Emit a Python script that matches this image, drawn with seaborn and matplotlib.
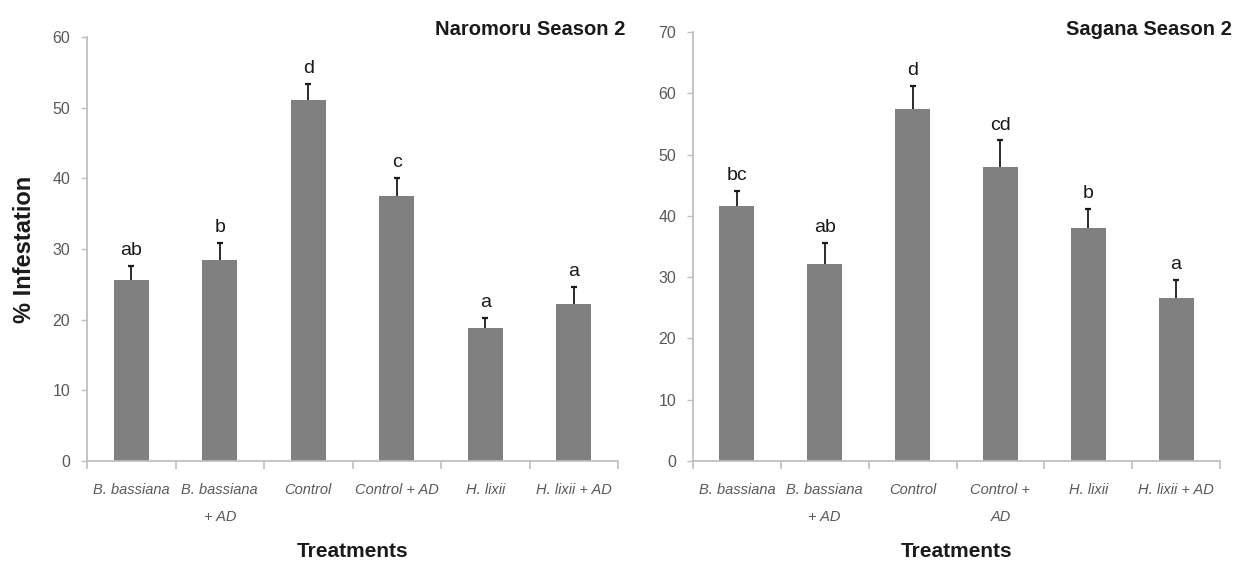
import matplotlib
matplotlib.use("Agg")
import matplotlib.pyplot as plt
import numpy as np
import pandas as pd
import seaborn as sns

# Treatments and mean % infestation with standard errors
treatments = ["B. bassiana", "B. bassiana\n+ AD", "Control", "Control + AD", "H. lixii", "H. lixii + AD"]
treatments_sagana = ["B. bassiana", "B. bassiana\n+ AD", "Control", "Control +\nAD", "H. lixii", "H. lixii + AD"]

naromoru_mean = [25.6, 28.4, 51.1, 37.5, 18.8, 22.2]
naromoru_se = [2.0, 2.4, 2.2, 2.5, 1.4, 2.4]
naromoru_letters = ["ab", "b", "d", "c", "a", "a"]

sagana_mean = [41.6, 32.1, 57.4, 48.0, 38.0, 26.6]
sagana_se = [2.5, 3.5, 3.8, 4.3, 3.2, 3.0]
sagana_letters = ["bc", "ab", "d", "cd", "b", "a"]

sns.set_theme(style="white")
FONT = ["Liberation Sans", "DejaVu Sans"]
plt.rcParams["font.family"] = FONT

BAR = "#808080"
AXIS = "#bfbfbf"
TICKTXT = "#595959"
DARK = "#1a1a1a"

fig = plt.figure(figsize=(12.5, 5.63), dpi=100)
# axes boxes in figure fractions (x0, y0, w, h)
ax1 = fig.add_axes([87 / 1250, 1 - 461 / 563, 531 / 1250, 424 / 563])
ax2 = fig.add_axes([693 / 1250, 1 - 461 / 563, 527 / 1250, 429 / 563])


def draw(ax, labels, means, ses, letters, ymax, title, title_x):
    df = pd.DataFrame({"Treatment": labels, "Infestation": means})
    sns.barplot(data=df, x="Treatment", y="Infestation", color=BAR,
                saturation=1, width=0.40, errorbar=None, ax=ax,
                edgecolor=BAR, linewidth=0)
    xs = np.arange(len(means))
    eb = ax.errorbar(xs, means, yerr=[np.zeros(len(ses)), ses], fmt="none",
                     ecolor=DARK, elinewidth=1.3, capsize=2.5, capthick=1.6)
    # keep only the upper cap of each bar's error whisker
    eb[1][0].set_visible(False)
    for x, m, s, t in zip(xs, means, ses, letters):
        ax.annotate(t, (x, m + s), xytext=(0, 5), textcoords="offset points",
                    ha="center", va="bottom", fontsize=14, color=DARK)
    ax.set_xlim(-0.5, len(means) - 0.5)
    ax.set_ylim(0, ymax)
    ax.set_yticks(np.arange(0, ymax + 1, 10))
    ax.set_xticks(xs)
    ax.set_xticklabels(labels, fontstyle="italic", fontsize=10.5, color=TICKTXT,
                       linespacing=2.15, va="top")
    ax.set_xticks(np.arange(-0.5, len(means)), minor=True)
    ax.tick_params(axis="x", which="major", length=0, pad=16)
    ax.tick_params(axis="x", which="minor", length=6, color=AXIS, width=1.2,
                   direction="out", bottom=True)
    ax.tick_params(axis="y", which="major", length=4, color=AXIS, width=1,
                   direction="out", left=True, labelsize=11.5, labelcolor=TICKTXT,
                   pad=8)
    for side in ["top", "right"]:
        ax.spines[side].set_visible(False)
    for side in ["left", "bottom"]:
        ax.spines[side].set_color(AXIS)
        ax.spines[side].set_linewidth(1.3)
    ax.set_xlabel("Treatments", fontsize=15, fontweight="bold", color=DARK,
                  labelpad=13)
    ax.set_ylabel("")
    fig.text(title_x, 1 - 35 / 563, title, ha="right", va="baseline",
             fontsize=14.5, fontweight="bold", color=DARK)


draw(ax1, treatments, naromoru_mean, naromoru_se, naromoru_letters, 60,
     "Naromoru Season 2", 625 / 1250)
draw(ax2, treatments_sagana, sagana_mean, sagana_se, sagana_letters, 70,
     "Sagana Season 2", 1232 / 1250)

ax1.set_ylabel("% Infestation", fontsize=17, fontweight="bold", color=DARK,
               labelpad=12)

fig.savefig("out.png", dpi=100, facecolor="white")
